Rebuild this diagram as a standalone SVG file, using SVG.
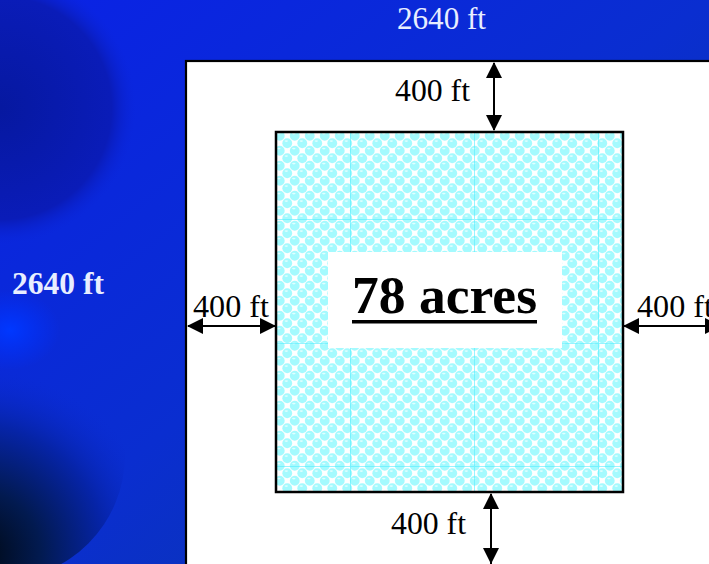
<svg xmlns="http://www.w3.org/2000/svg" width="709" height="564" viewBox="0 0 709 564">
<style>
.lbl{fill:#000}
.bg{fill:#e8eeff}
.arr{stroke:#000;stroke-width:2;fill:none}
</style>
<defs>
<linearGradient id="bgG" x1="0" y1="0" x2="1" y2="1">
<stop offset="0" stop-color="#0a22e6"/>
<stop offset="0.5" stop-color="#0a2ed0"/>
<stop offset="1" stop-color="#0c3a9c"/>
</linearGradient>
<radialGradient id="s1" cx="0.5" cy="0.5" r="0.5">
<stop offset="0" stop-color="#0618a0"/>
<stop offset="0.82" stop-color="#0a1cb8"/>
<stop offset="1" stop-color="#0a24d8" stop-opacity="0"/>
</radialGradient>
<radialGradient id="s2" cx="0.4" cy="0.9" r="0.75">
<stop offset="0" stop-color="#000810"/>
<stop offset="0.35" stop-color="#021a50"/>
<stop offset="0.7" stop-color="#0624a8"/>
<stop offset="1" stop-color="#0a2ad0" stop-opacity="0"/>
</radialGradient>
<radialGradient id="hl" cx="0.5" cy="0.5" r="0.5">
<stop offset="0" stop-color="#0038ff"/>
<stop offset="1" stop-color="#0030ff" stop-opacity="0"/>
</radialGradient>
<pattern id="bub" width="15" height="15" patternUnits="userSpaceOnUse" x="276" y="132">
<rect width="15" height="15" fill="#ffffff"/>
<g fill="#a4fafe">
<circle cx="3.75" cy="3.75" r="4.9"/>
<circle cx="11.25" cy="11.25" r="4.9"/>
<circle cx="11.25" cy="-3.75" r="4.9"/>
<circle cx="-3.75" cy="11.25" r="4.9"/>
<circle cx="18.75" cy="3.75" r="4.9"/>
<circle cx="3.75" cy="18.75" r="4.9"/>
</g>
<ellipse cx="2.8" cy="1.6" rx="1.8" ry="0.8" fill="#e0ffff"/>
<ellipse cx="10.3" cy="9.1" rx="1.8" ry="0.8" fill="#e0ffff"/>
</pattern>
<marker id="ah" viewBox="0 0 16 16" refX="15" refY="8" markerWidth="16" markerHeight="16" markerUnits="userSpaceOnUse" orient="auto-start-reverse">
<path d="M0,0 L16,8 L0,16 Z" fill="#000"/>
</marker>
</defs>

<g id="background">
<rect width="709" height="564" fill="url(#bgG)"/>
<circle cx="0" cy="108" r="136" fill="url(#s1)"/>
<circle cx="0" cy="455" r="125" fill="url(#s2)"/>
<ellipse cx="10" cy="330" rx="50" ry="40" fill="url(#hl)"/>
</g>

<g id="section">
<rect x="186" y="61" width="540" height="520" fill="#fff" stroke="#000" stroke-width="2.2"/>
</g>

<g id="parcel">
<rect x="276" y="132" width="347" height="360" fill="url(#bub)"/>
<g stroke="#55eeff" stroke-width="1" opacity="0.6">
<line x1="350.5" y1="133" x2="350.5" y2="491"/>
<line x1="474.5" y1="133" x2="474.5" y2="491"/>
<line x1="598.5" y1="133" x2="598.5" y2="491"/>
<line x1="277" y1="219.5" x2="622" y2="219.5"/>
<line x1="277" y1="343.5" x2="622" y2="343.5"/>
<line x1="277" y1="466.5" x2="622" y2="466.5"/>
</g>
<rect x="276" y="132" width="347" height="360" fill="none" stroke="#000" stroke-width="2.5"/>
</g>

<g id="label-box">
<rect x="328" y="252" width="234" height="96" fill="#fff"/>
<text x="352" y="313" font-family="Liberation Serif, Times New Roman, serif" font-size="52" font-weight="bold" textLength="185" lengthAdjust="spacingAndGlyphs" fill="#000">78 acres</text>
<rect x="352" y="320" width="185" height="3.5" fill="#000"/>
</g>

<g id="connectors">
<line class="arr" x1="494" y1="63" x2="494" y2="130" marker-start="url(#ah)" marker-end="url(#ah)"/>
<line class="arr" x1="188" y1="326" x2="275" y2="326" marker-start="url(#ah)" marker-end="url(#ah)"/>
<line class="arr" x1="624" y1="326" x2="720" y2="326" marker-start="url(#ah)" marker-end="url(#ah)"/>
<line class="arr" x1="491" y1="494" x2="491" y2="564" marker-start="url(#ah)"/>
<path d="M483,548 L491,564 L499,548 Z" fill="#000"/>
</g>

<g id="labels" font-family="Liberation Serif, Times New Roman, serif" font-size="31">
<text class="bg" x="397" y="29" textLength="89" lengthAdjust="spacingAndGlyphs">2640 ft</text>
<text class="bg" x="12" y="294" font-size="32" font-weight="bold" textLength="92" lengthAdjust="spacingAndGlyphs">2640 ft</text>
<text class="lbl" x="395" y="101" textLength="75" lengthAdjust="spacingAndGlyphs">400 ft</text>
<text class="lbl" x="193" y="317" textLength="76" lengthAdjust="spacingAndGlyphs">400 ft</text>
<text class="lbl" x="637" y="317" textLength="76" lengthAdjust="spacingAndGlyphs">400 ft</text>
<text class="lbl" x="391" y="534" textLength="75" lengthAdjust="spacingAndGlyphs">400 ft</text>
</g>
</svg>
